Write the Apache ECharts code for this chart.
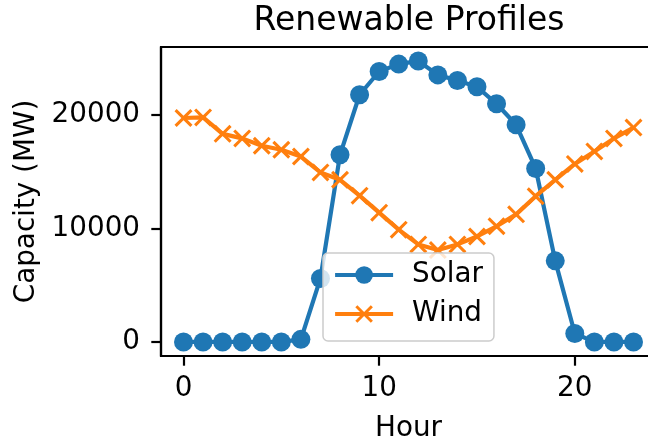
<!DOCTYPE html>
<html><head><meta charset="utf-8">
<script src="https://cdn.jsdelivr.net/npm/echarts@6/dist/echarts.min.js"></script>
<style>html,body{margin:0;padding:0;background:#fff}#c{width:648px;height:442px}</style>
</head><body><div id="c"></div>
<script>
const hours = [0,1,2,3,4,5,6,7,8,9,10,11,12,13,14,15,16,17,18,19,20,21,22,23];
const solar = [0,0,0,0,0,0,230,5600,16500,21800,23850,24500,24770,23550,23050,22500,21000,19150,15300,7150,750,0,0,0];
const wind = [19750,19800,18350,17950,17300,16950,16350,14950,14300,12900,11400,9900,8600,8100,8600,9300,10200,11250,12850,14300,15700,16800,17950,18900];
const xTicks = [0,10,20];
const yTicks = [0,10000,20000];
const seriesNames = ['Solar','Wind'];
const titleText = 'Renewable Profiles';
const xName = 'Hour';
const yName = 'Capacity (MW)';

const FONT = 'DejaVu Sans';
const xmin = Math.min(...hours), xmax = Math.max(...hours);
const xr = xmax - xmin;
const all = solar.concat(wind);
const ymin = Math.min(...all), ymax = Math.max(...all);
const yr = ymax - ymin;
const xPath = 'path://M0,1.2L1.2,0L5,3.8L8.8,0L10,1.2L6.2,5L10,8.8L8.8,10L5,6.2L1.2,10L0,8.8L3.8,5Z';

const chart = echarts.init(document.getElementById('c'), null, {renderer:'canvas'});
chart.setOption({
  animation:false,
  backgroundColor:'#fff',
  title:{text:titleText,left:404,top:0,textAlign:'center',
    textStyle:{fontFamily:FONT,fontSize:33,fontWeight:'normal',color:'#000'}},
  legend:{
    orient:'vertical',left:323,top:253,
    data:seriesNames,
    itemWidth:58,itemHeight:22,itemGap:9,
    padding:[7,11,12,10],
    backgroundColor:'rgba(255,255,255,0.8)',
    borderColor:'#cccccc',borderWidth:1.5,borderRadius:5,
    lineStyle:{width:4.2},
    textStyle:{fontFamily:FONT,fontSize:27.8,color:'#000',lineHeight:30,padding:[0,0,0,14]}
  },
  grid:{left:161,top:47,width:495,height:309,show:true,borderColor:'#000',borderWidth:2.2,
    backgroundColor:'transparent',containLabel:false,outerBoundsMode:'none'},
  xAxis:{type:'value',min:xmin-0.05*xr,max:xmax+0.05*xr,
    name:xName,nameLocation:'middle',nameGap:59,
    nameTextStyle:{fontFamily:FONT,fontSize:27.8,color:'#000'},
    axisLine:{show:true,onZero:false,lineStyle:{color:'#000',width:2.2}},
    axisTick:{show:true,customValues:xTicks,length:9.7,lineStyle:{color:'#000',width:2.2}},
    axisLabel:{customValues:xTicks,margin:19,fontFamily:FONT,fontSize:27.8,color:'#000',
      formatter:v=>String(v)},
    splitLine:{show:false}},
  yAxis:{type:'value',min:ymin-0.05*yr,max:ymax+0.05*yr,
    name:yName,nameLocation:'middle',nameGap:118,nameRotate:90,
    nameTextStyle:{fontFamily:FONT,fontSize:27.8,color:'#000'},
    axisLine:{show:true,onZero:false,lineStyle:{color:'#000',width:2.2}},
    axisTick:{show:true,customValues:yTicks,length:9.7,lineStyle:{color:'#000',width:2.2}},
    axisLabel:{customValues:yTicks,margin:21,fontFamily:FONT,fontSize:27.8,color:'#000',
      formatter:v=>String(v)},
    splitLine:{show:false}},
  series:[
    {name:seriesNames[0],type:'line',data:hours.map((h,i)=>[h,solar[i]]),
      symbol:'circle',symbolSize:19,showAllSymbol:true,
      lineStyle:{color:'#1f77b4',width:4.2},itemStyle:{color:'#1f77b4'}},
    {name:seriesNames[1],type:'line',data:hours.map((h,i)=>[h,wind[i]]),
      symbol:xPath,symbolSize:18,showAllSymbol:true,
      lineStyle:{color:'#ff7f0e',width:4.2},itemStyle:{color:'#ff7f0e'}}
  ]
});
</script></body></html>
